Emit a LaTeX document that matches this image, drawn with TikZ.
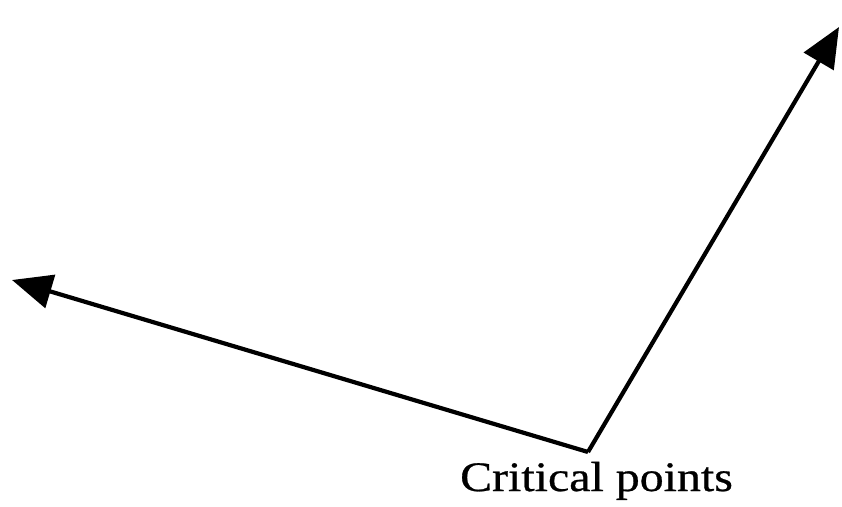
\documentclass[tikz,border=0pt]{standalone}
\usepackage{fontspec}
\setmainfont{Liberation Serif}[FakeBold=0.6]
\usetikzlibrary{arrows.meta}
\tikzset{
  vec/.style ={-{Triangle[length=40pt, width=34pt]}, line width=4.2pt},
  lbl/.style ={font=\fontsize{42}{48}\selectfont, inner sep=0pt, anchor=base, xscale=1.14},
}
\begin{document}
\begin{tikzpicture}[x=1pt, y=1pt]
  \useasboundingbox (0,0) rectangle (842,506);
  \coordinate (crit) at (588,54);
  \coordinate (lefttip) at (12,226);
  \coordinate (righttip) at (839,479);
  \node[lbl] (critlabel) at (596.5,15) {Critical points};
  \draw[vec] (crit)--(lefttip);
  \draw[vec] (crit)--(righttip);
\end{tikzpicture}
\end{document}
